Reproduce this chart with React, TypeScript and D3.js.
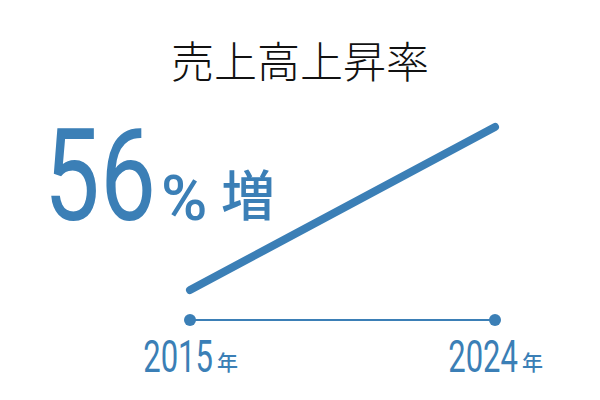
import React from 'react';
import * as d3 from 'd3';

const years = [2015, 2024];
const growth = [0, 56];
const yearLabels = ['2015', '2024'];
const headline = '56';
const title = '売上高上昇率';

const BLUE = '#3b7fb6';
const DIGITS = 'Roboto, "Noto Sans", sans-serif';
const CJK = '"Noto Sans CJK JP", "Noto Sans", sans-serif';

const App: React.FC = () => {
  const width = 600;
  const height = 400;

  const x = d3.scaleLinear().domain(d3.extent(years) as [number, number]).range([190, 495]);
  const y = d3.scaleLinear().domain([0, d3.max(growth) || 0]).range([290, 127]);
  const axisY = 320;

  const line = d3
    .line<number>()
    .x((_, i) => x(years[i]))
    .y((d) => y(d));

  return (
    <svg
      width={width}
      height={height}
      style={{ position: 'absolute', left: 0, top: 0, background: '#fff' }}
    >
      <text
        x={300}
        y={78}
        textAnchor="middle"
        fontFamily={CJK}
        fontWeight={300}
        fontSize={43}
        fill="#111"
      >
        {title}
      </text>

      {/* headline number */}
      <g transform="translate(156, 220) scale(0.78, 1)">
        <text x={0} y={0} textAnchor="end" fontFamily={DIGITS} fontSize={128} fill={BLUE}>
          {headline}
        </text>
      </g>
      <text x={161} y={220} fontFamily={DIGITS} fontWeight={500} fontSize={63} fill={BLUE}>
        %
      </text>
      <text x={221} y={216} fontFamily={CJK} fontWeight={500} fontSize={54} fill={BLUE}>
        増
      </text>

      {/* growth line */}
      <path
        d={line(growth) || ''}
        fill="none"
        stroke={BLUE}
        strokeWidth={8}
        strokeLinecap="round"
      />

      {/* year axis */}
      <line
        x1={x(years[0])}
        x2={x(years[1])}
        y1={axisY}
        y2={axisY}
        stroke={BLUE}
        strokeWidth={2}
      />
      {years.map((yr, i) => (
        <g key={yr}>
          <circle cx={x(yr)} cy={axisY} r={6} fill={BLUE} />
          <g transform={`translate(${x(yr) + 23}, 372) scale(0.69, 1)`}>
            <text x={0} y={0} textAnchor="end" fontFamily={DIGITS} fontSize={45} fill={BLUE}>
              {yearLabels[i]}
            </text>
          </g>
          <text x={x(yr) + 27} y={370} fontFamily={CJK} fontWeight={500} fontSize={21} fill={BLUE}>
            年
          </text>
        </g>
      ))}
    </svg>
  );
};

export default App;
